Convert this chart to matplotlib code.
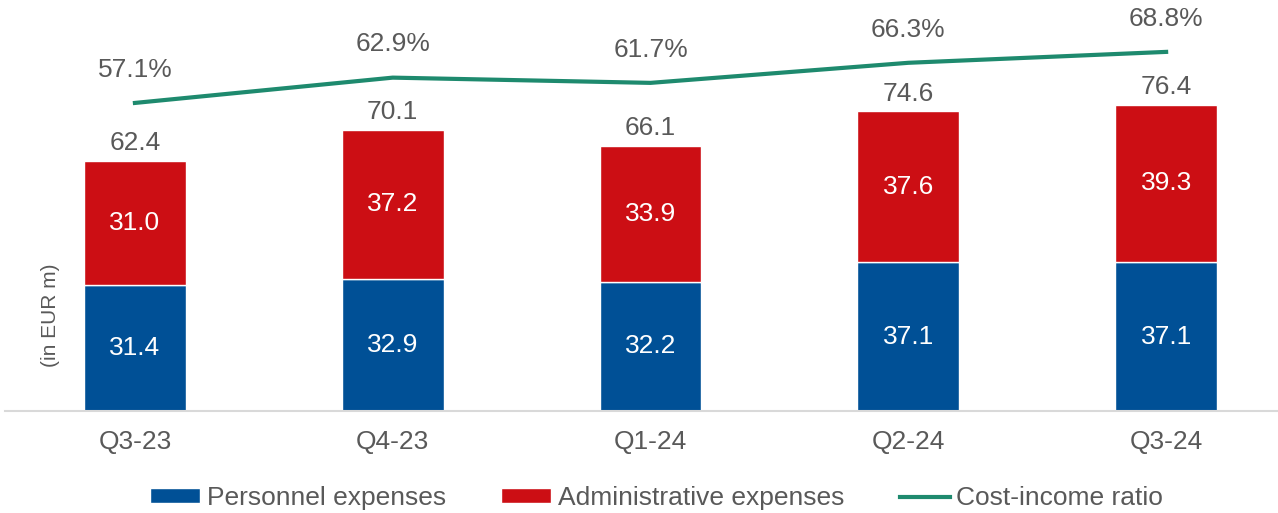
import numpy as np
import matplotlib.pyplot as plt

plt.rcParams['font.family'] = ['Liberation Sans', 'DejaVu Sans']

quarters = ["Q3-23", "Q4-23", "Q1-24", "Q2-24", "Q3-24"]
personnel = [31.4, 32.9, 32.2, 37.1, 37.1]
admin = [31.0, 37.2, 33.9, 37.6, 39.3]
totals = [62.4, 70.1, 66.1, 74.6, 76.4]
cir = [57.1, 62.9, 61.7, 66.3, 68.8]

blue = "#005096"
red = "#cc0e14"
green = "#1e8a6e"
grey = "#595959"
fs = 19

fig = plt.figure(figsize=(12.78, 5.13), dpi=100)
ax = fig.add_axes([5 / 1278, 102 / 513, 1273 / 1278, 401 / 513])
x = np.arange(len(quarters))
w = 0.395

b1 = ax.bar(x, personnel, w, color=blue, edgecolor="white", linewidth=1,
            label="Personnel expenses")
b2 = ax.bar(x, admin, w, bottom=personnel, color=red, edgecolor="white",
            linewidth=1, label="Administrative expenses")

for i in range(len(x)):
    ax.text(x[i], personnel[i] / 2, f"{personnel[i]:.1f}", ha="center",
            va="center", color="white", fontsize=fs)
    ax.text(x[i], personnel[i] + admin[i] / 2, f"{admin[i]:.1f}",
            ha="center", va="center", color="white", fontsize=fs)
    ax.text(x[i], totals[i] + 4.5, f"{totals[i]:.1f}", ha="center",
            va="center", color=grey, fontsize=fs)

ax.set_xlim(-0.504, 4.434)
ax.set_ylim(0, 100)
ax.set_xticks(x)
ax.set_xticklabels(quarters, fontsize=fs, color=grey)
ax.tick_params(axis="x", length=0, pad=14)
ax.set_yticks([])
for s in ["top", "right", "left"]:
    ax.spines[s].set_visible(False)
ax.spines["bottom"].set_color("#d9d9d9")
ax.spines["bottom"].set_linewidth(1.5)

fig.text(51 / 1278, 1 - 315 / 513, "(in EUR m)", rotation=90, ha="center",
         va="center", color=grey, fontsize=15)

# cost-income ratio on its own scale
ax2 = ax.twinx()
ln, = ax2.plot(x, cir, color=green, linewidth=3, label="Cost-income ratio")
ax2.set_ylim(-13.5, 78.4)
ax2.set_yticks([])
for s in ax2.spines.values():
    s.set_visible(False)
for i in range(len(x)):
    ax2.text(x[i], cir[i] + 7.6, f"{cir[i]:.1f}%", ha="center", va="center",
             color=grey, fontsize=fs)

fig.legend([b1, b2, ln], ["Personnel expenses", "Administrative expenses",
                          "Cost-income ratio"],
           loc="center", bbox_to_anchor=(0.5137, 1 - 498 / 513), ncol=3,
           frameon=False, fontsize=fs, handlelength=1.9, handleheight=0.48,
           columnspacing=2.1, handletextpad=0.25, labelcolor=grey)

fig.savefig("out.png", dpi=100)
